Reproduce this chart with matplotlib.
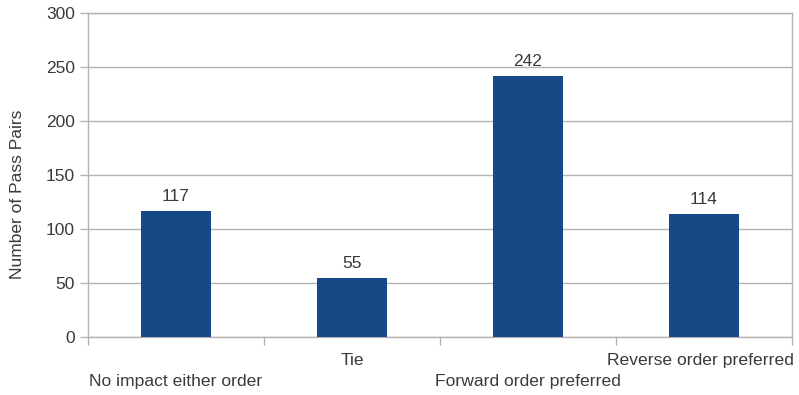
import matplotlib.pyplot as plt
from matplotlib.transforms import blended_transform_factory

# Pass pair outcomes per category
categories = ['No impact either order', 'Tie', 'Forward order preferred', 'Reverse order preferred']
counts = [117, 55, 242, 114]

plt.rcParams['font.family'] = ['Liberation Sans', 'DejaVu Sans']
text_color = '#3a3a3a'
line_color = '#b3b3b3'
bar_color = '#174a84'

fig = plt.figure(figsize=(7.99, 3.95), dpi=100)
ax = fig.add_axes([88 / 799, 1 - 337 / 395, 704 / 799, 324 / 395])

x = list(range(len(categories)))
bars = ax.bar(x, counts, width=0.4, color=bar_color, zorder=3)

ax.set_xlim(-0.5, len(categories) - 0.5)
ax.set_ylim(0, 300)
ax.set_yticks(range(0, 301, 50))
ax.yaxis.grid(True, color=line_color, linewidth=1)
ax.set_axisbelow(True)

# tick marks at category boundaries, labels placed separately (staggered)
ax.set_xticks([i - 0.5 for i in range(len(categories) + 1)])
ax.set_xticklabels([])
ax.tick_params(axis='x', length=5.8, width=1, color=line_color)
ax.tick_params(axis='y', length=5.8, width=1, color=line_color,
               labelsize=12.5, labelcolor=text_color, pad=3.6)

for side in ['left', 'bottom', 'right', 'top']:
    ax.spines[side].set_color(line_color)
    ax.spines[side].set_linewidth(1)

trans = blended_transform_factory(ax.transData, ax.transAxes)
for i, name in enumerate(categories):
    y = -0.074 if i % 2 else -0.136
    # keep the last label inside the figure
    dx = -4 if i == len(categories) - 1 else 0
    ax.annotate(name, (i, y), xycoords=trans, xytext=(dx, 0),
                textcoords='offset pixels', ha='center', va='center',
                fontsize=12.6, color=text_color)

for xi, v in zip(x, counts):
    ax.annotate(str(v), (xi, v), xytext=(0, 5), textcoords='offset points',
                ha='center', va='bottom', fontsize=12.5, color=text_color)

ax.set_ylabel('Number of Pass Pairs', fontsize=12.5, color=text_color)
ax.yaxis.set_label_coords((25 - 88) / 704, 0.44)

fig.savefig('out.png', dpi=100)
